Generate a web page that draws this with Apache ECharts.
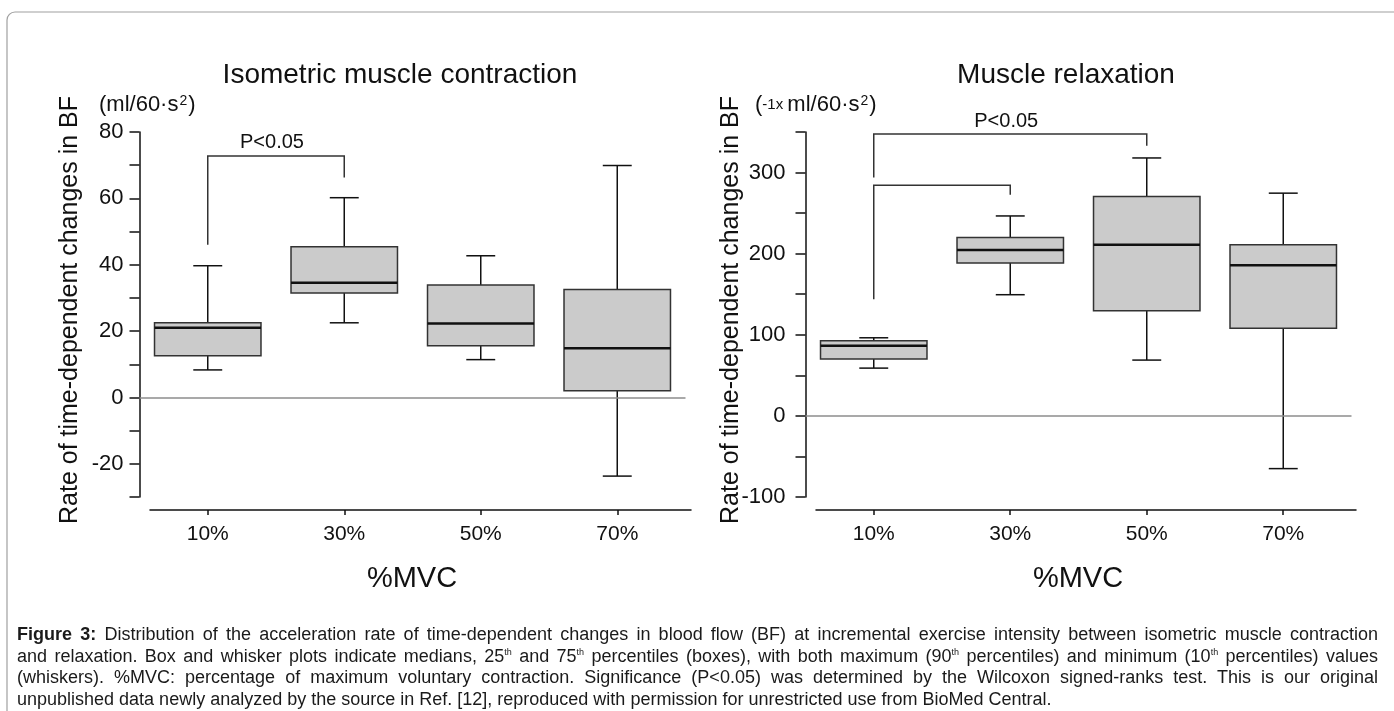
<!DOCTYPE html>
<html>
<head>
<meta charset="utf-8">
<script src="https://cdn.jsdelivr.net/npm/echarts@6/dist/echarts.min.js"></script>
<style>
  html, body { margin:0; padding:0; background:#fff; }
  #wrap { position:relative; width:1394px; height:711px; overflow:hidden; }
  #chart { position:absolute; left:0; top:0; width:1394px; height:711px; }
  #caption { position:absolute; left:17px; top:624px; width:1361px;
    font-family:'Liberation Sans', Arial, sans-serif; font-size:18px; line-height:21.7px; color:#1a1a1a; }
  #caption .ln { white-space:nowrap; }
  #caption sup { font-size:9px; line-height:0; vertical-align:7px; }
</style>
</head>
<body>
<div id="wrap">
  <div id="chart"></div>
  <div id="caption">
    <div class="ln"><b>Figure 3:</b> Distribution of the acceleration rate of time-dependent changes in blood flow (BF) at incremental exercise intensity between isometric muscle contraction</div>
    <div class="ln">and relaxation. Box and whisker plots indicate medians, 25<sup>th</sup> and 75<sup>th</sup> percentiles (boxes), with both maximum (90<sup>th</sup> percentiles) and minimum (10<sup>th</sup> percentiles) values</div>
    <div class="ln">(whiskers). %MVC: percentage of maximum voluntary contraction. Significance (P&lt;0.05) was determined by the Wilcoxon signed-ranks test. This is our original</div>
    <div class="ln last">unpublished data newly analyzed by the source in Ref. [12], reproduced with permission for unrestricted use from BioMed Central.</div>
  </div>
</div>
<script>
// ---------------- data ----------------
const categories = ['10%', '30%', '50%', '70%'];
// each row: [10th pct (min whisker), 25th pct, median, 75th pct, 90th pct (max whisker)]
const contractionStats = [
  [8.3, 12.6, 21.0, 22.5, 39.7],
  [22.5, 31.5, 34.6, 45.4, 60.2],
  [11.4, 15.6, 22.3, 33.9, 42.7],
  [-23.7, 2.0, 14.8, 32.5, 69.9]
];
const relaxationStats = [
  [58.9, 70.0, 86.4, 92.6, 96.3],
  [149.4, 188.5, 204.6, 219.8, 246.5],
  [68.8, 129.6, 211.0, 270.4, 318.0],
  [-65.0, 107.9, 185.7, 211.0, 274.6]
];
// significance brackets: [from category, to category, bar level, left leg end, right leg end]
const contractionBrackets = [[0, 1, 72.8, 46.0, 66.3]];
const contractionBracketLabels = ['P<0.05'];
const relaxationBrackets = [[0, 2, 347.4, 293.8, 333.0], [0, 1, 284.4, 143.7, 272.5]];
const relaxationBracketLabels = ['P<0.05', ''];
const contractionTickLabels = [-20, 0, 20, 40, 60, 80];
const relaxationTickLabels = [-100, 0, 100, 200, 300];

// ---------------- caption justification ----------------
(function () {
  const W = 1361;
  document.querySelectorAll('#caption .ln').forEach(el => {
    if (el.classList.contains('last')) return;
    el.style.display = 'inline-block';
    el.style.wordSpacing = '0px';
    const w = el.getBoundingClientRect().width;
    const spaces = (el.textContent.match(/ /g) || []).length;
    el.style.wordSpacing = ((W - w) / spaces) + 'px';
    el.style.display = 'block';
  });
})();

// ---------------- chart ----------------
const FONT = "'Liberation Sans', Arial, sans-serif";
const chart = echarts.init(document.getElementById('chart'), null, { renderer: 'canvas' });

function renderBox(params, api) {
  const x = api.value(0);
  const lo = api.coord([x, api.value(1)]);
  const q1 = api.coord([x, api.value(2)]);
  const md = api.coord([x, api.value(3)]);
  const q3 = api.coord([x, api.value(4)]);
  const hi = api.coord([x, api.value(5)]);
  const band = api.size([1, 0])[0];
  const hw = band * 0.39, cw = band * 0.106;
  const cx = lo[0];
  const ln = { stroke: '#111', lineWidth: 1.5 };
  return {
    type: 'group',
    children: [
      { type: 'line', shape: { x1: cx, y1: hi[1], x2: cx, y2: q3[1] }, style: ln },
      { type: 'line', shape: { x1: cx, y1: q1[1], x2: cx, y2: lo[1] }, style: ln },
      { type: 'line', shape: { x1: cx - cw, y1: hi[1], x2: cx + cw, y2: hi[1] }, style: ln },
      { type: 'line', shape: { x1: cx - cw, y1: lo[1], x2: cx + cw, y2: lo[1] }, style: ln },
      { type: 'rect', shape: { x: cx - hw, y: q3[1], width: 2 * hw, height: q1[1] - q3[1] },
        style: { fill: '#cbcbcb', stroke: '#333', lineWidth: 1.5 } },
      { type: 'line', shape: { x1: cx - hw, y1: md[1], x2: cx + hw, y2: md[1] },
        style: { stroke: '#111', lineWidth: 2.5 } }
    ]
  };
}

function bracketRenderer(labels) {
  return function (params, api) {
    const x1 = api.value(0), x2 = api.value(1), yt = api.value(2);
    const pL = api.coord([x1, api.value(3)]);
    const pT1 = api.coord([x1, yt]);
    const pT2 = api.coord([x2, yt]);
    const pR = api.coord([x2, api.value(4)]);
    const children = [
      { type: 'polyline', shape: { points: [pL, pT1, pT2, pR] },
        style: { stroke: '#333', lineWidth: 1.5, fill: 'none' } }
    ];
    const lab = labels[params.dataIndex];
    if (lab) {
      children.push({ type: 'text', x: (pT1[0] + pT2[0]) / 2 - 4, y: pT1[1] - 13,
        style: { text: lab, fontFamily: FONT, fontSize: 20, fill: '#111', align: 'center', verticalAlign: 'middle' } });
    }
    return { type: 'group', children };
  };
}

function dataXAxis(g) {
  return { gridIndex: g, type: 'value', min: -0.5, max: 3.5, show: false };
}
function visXAxis(g, min, max) {
  return {
    gridIndex: g, type: 'value', min: min, max: max,
    axisLine: { show: true, onZero: false, lineStyle: { color: '#111', width: 1.5 } },
    axisTick: { show: true, customValues: [0, 1, 2, 3], length: 5, lineStyle: { color: '#111', width: 1.5 } },
    axisLabel: { show: true, customValues: [0, 1, 2, 3], formatter: v => categories[Math.round(v)] || '',
      fontFamily: FONT, fontSize: 21, color: '#111', margin: 14 },
    splitLine: { show: false }
  };
}
function visYAxis(g, min, max, interval, labels, margin) {
  return {
    gridIndex: g, type: 'value', min: min, max: max, interval: interval,
    axisLine: { show: true, onZero: false, lineStyle: { color: '#111', width: 1.5 } },
    axisTick: { show: true, length: 10, lineStyle: { color: '#111', width: 1.5 } },
    axisLabel: { show: true, formatter: v => labels.indexOf(v) >= 0 ? String(v) : '',
      fontFamily: FONT, fontSize: 22, color: '#111', margin: margin },
    splitLine: { show: false }
  };
}

const zeroLine = {
  silent: true, symbol: ['none', 'none'], animation: false,
  label: { show: false },
  lineStyle: { color: '#8c8c8c', width: 1.5, type: 'solid' },
  data: [{ yAxis: 0 }]
};

const option = {
  animation: false,
  backgroundColor: '#fff',
  grid: [
    { left: 139.5, top: 132, width: 546, height: 365 },
    { left: 150, top: 509, width: 541, height: 1 },
    { left: 805.5, top: 132, width: 546, height: 365 },
    { left: 816, top: 509, width: 540, height: 1 }
  ],
  xAxis: [
    dataXAxis(0),
    visXAxis(1, -0.423, 3.54),
    dataXAxis(2),
    visXAxis(3, -0.423, 3.533)
  ],
  yAxis: [
    visYAxis(0, -30, 80, 10, contractionTickLabels, 16),
    { gridIndex: 1, type: 'value', min: 0, max: 1, show: false },
    visYAxis(2, -100, 350, 50, relaxationTickLabels, 20),
    { gridIndex: 3, type: 'value', min: 0, max: 1, show: false }
  ],
  series: [
    { type: 'custom', xAxisIndex: 0, yAxisIndex: 0, renderItem: renderBox,
      encode: { x: 0, y: [1, 2, 3, 4, 5] },
      data: contractionStats.map((s, i) => [i].concat(s)), markLine: zeroLine, z: 3 },
    { type: 'custom', xAxisIndex: 0, yAxisIndex: 0, renderItem: bracketRenderer(contractionBracketLabels),
      encode: { x: [0, 1], y: [2, 3, 4] }, data: contractionBrackets, z: 4 },
    { type: 'custom', xAxisIndex: 2, yAxisIndex: 2, renderItem: renderBox,
      encode: { x: 0, y: [1, 2, 3, 4, 5] },
      data: relaxationStats.map((s, i) => [i].concat(s)), markLine: zeroLine, z: 3 },
    { type: 'custom', xAxisIndex: 2, yAxisIndex: 2, renderItem: bracketRenderer(relaxationBracketLabels),
      encode: { x: [0, 1], y: [2, 3, 4] }, data: relaxationBrackets, z: 4 }
  ],
  graphic: [
    { type: 'rect', z: 0, shape: { x: 7, y: 12, width: 1500, height: 900, r: [8, 0, 0, 0] },
      style: { fill: 'none', stroke: '#a0a0a0', lineWidth: 1.2 } },
    { type: 'text', x: 400, y: 75, style: { text: 'Isometric muscle contraction', fontFamily: FONT, fontSize: 28, fill: '#111', align: 'center', verticalAlign: 'middle' } },
    { type: 'text', x: 1066, y: 75, style: { text: 'Muscle relaxation', fontFamily: FONT, fontSize: 28, fill: '#111', align: 'center', verticalAlign: 'middle' } },
    { type: 'text', x: 70, y: 310, rotation: Math.PI / 2, style: { text: 'Rate of time-dependent changes in BF', fontFamily: FONT, fontSize: 25, fill: '#111', align: 'center', verticalAlign: 'middle' } },
    { type: 'text', x: 731, y: 310, rotation: Math.PI / 2, style: { text: 'Rate of time-dependent changes in BF', fontFamily: FONT, fontSize: 25, fill: '#111', align: 'center', verticalAlign: 'middle' } },
    { type: 'text', x: 99, y: 105, style: { text: '{a|(ml/60·s}{b|2}{a|)}', fontFamily: FONT, fill: '#111', align: 'left', verticalAlign: 'middle',
      rich: { a: { fontFamily: FONT, fontSize: 22, fill: '#111' }, b: { fontFamily: FONT, fontSize: 14, fill: '#111', verticalAlign: 'top', padding: [0, 1, 8, 1] } } } },
    { type: 'text', x: 755, y: 105, style: { text: '{a|(}{c|-1x }{a|ml/60·s}{b|2}{a|)}', fontFamily: FONT, fill: '#111', align: 'left', verticalAlign: 'middle',
      rich: { a: { fontFamily: FONT, fontSize: 22, fill: '#111' }, c: { fontFamily: FONT, fontSize: 15, fill: '#111' }, b: { fontFamily: FONT, fontSize: 14, fill: '#111', verticalAlign: 'top', padding: [0, 1, 8, 1] } } } },
    { type: 'text', x: 412, y: 579, style: { text: '%MVC', fontFamily: FONT, fontSize: 29, fill: '#111', align: 'center', verticalAlign: 'middle' } },
    { type: 'text', x: 1078, y: 579, style: { text: '%MVC', fontFamily: FONT, fontSize: 29, fill: '#111', align: 'center', verticalAlign: 'middle' } }
  ]
};
chart.setOption(option);
</script>
</body>
</html>
